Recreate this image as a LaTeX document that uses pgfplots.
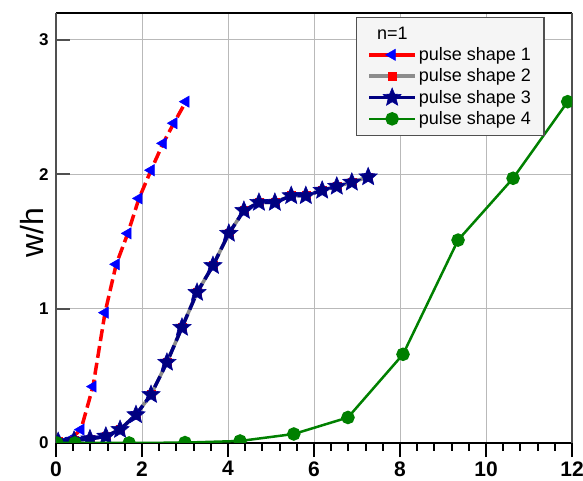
\documentclass[border=0pt]{standalone}
\usepackage{pgfplots}
\pgfplotsset{compat=1.18}
\usepackage{fontspec}
\setmainfont{Liberation Sans}

\definecolor{shapered}{RGB}{255,0,0}
\definecolor{shapeblue}{RGB}{0,0,255}
\definecolor{shapegray}{RGB}{140,140,140}
\definecolor{shapenavy}{RGB}{0,0,128}
\definecolor{shapegreen}{RGB}{0,128,0}
\definecolor{spinegray}{RGB}{80,80,80}

% filled five-pointed star
\pgfdeclareplotmark{fstar}{%
  \pgfpathmoveto{\pgfpointpolar{90}{\pgfplotmarksize}}%
  \pgfpathlineto{\pgfpointpolar{126}{0.45*\pgfplotmarksize}}%
  \pgfpathlineto{\pgfpointpolar{162}{\pgfplotmarksize}}%
  \pgfpathlineto{\pgfpointpolar{198}{0.45*\pgfplotmarksize}}%
  \pgfpathlineto{\pgfpointpolar{234}{\pgfplotmarksize}}%
  \pgfpathlineto{\pgfpointpolar{270}{0.45*\pgfplotmarksize}}%
  \pgfpathlineto{\pgfpointpolar{306}{\pgfplotmarksize}}%
  \pgfpathlineto{\pgfpointpolar{342}{0.45*\pgfplotmarksize}}%
  \pgfpathlineto{\pgfpointpolar{18}{\pgfplotmarksize}}%
  \pgfpathlineto{\pgfpointpolar{54}{0.45*\pgfplotmarksize}}%
  \pgfpathclose
  \pgfusepathqfillstroke
}

\begin{document}
\begin{tikzpicture}
\begin{axis}[
  name=ax,
  scale only axis,
  width=516pt, height=430pt,
  xmin=0, xmax=12, ymin=0, ymax=3.2,
  xtick={0,2,4,6,8,10,12},
  ytick={0,1,2,3},
  minor x tick num=4,
  xtick pos=bottom, ytick pos=left,
  xtick align=outside, ytick align=inside,
  major tick length=14pt, minor tick length=8pt,
  every x tick/.style={black, line width=2pt},
  every y tick/.style={spinegray, line width=2pt},
  grid=major,
  major grid style={gray!55, line width=0.8pt},
  separate axis lines,
  x axis line style={black, line width=2.6pt},
  y axis line style={spinegray, line width=2.6pt},
  clip mode=individual,
  clip marker paths=true,
  /pgf/number format/assume math mode=true,
  x tick label style={font=\fontsize{21}{24}\selectfont\bfseries, yshift=-1pt},
  y tick label style={font=\fontsize{17}{20}\selectfont\bfseries, xshift=-4pt},
  ylabel={w/h},
  ylabel style={font=\fontsize{32}{36}\selectfont, at={(axis description cs:-0.023,0.49)}, anchor=south, rotate=0, inner sep=0pt},
  legend image code/.code={\draw[mark repeat=2,mark phase=2,#1] plot coordinates {(0pt,0pt) (23pt,0pt) (46pt,0pt)};},
  legend image post style={solid},
  legend cell align=left,
  legend style={at={(axis description cs:0.581,0.991)}, anchor=north west,
    fill=gray!8, draw=spinegray, line width=1.2pt,
    font=\fontsize{18}{20}\selectfont, row sep=0pt,
    nodes={inner ysep=3.4pt},
    inner xsep=11pt, inner ysep=6pt},
]
\addlegendimage{empty legend}
\addlegendentry{\hspace{-50pt}n=1}

\addplot[shapered, line width=3.5pt, dash pattern=on 12pt off 5pt,
  mark=triangle*, mark size=6.5pt, mark options={solid, rotate=90, fill=shapeblue, draw=shapeblue, line width=0.5pt}]
  coordinates {(0.02,0.01) (0.30,0.02) (0.58,0.10) (0.86,0.42) (1.14,0.97) (1.40,1.33) (1.67,1.56) (1.93,1.82) (2.21,2.03) (2.49,2.23) (2.74,2.38) (3.02,2.54)};
\addlegendentry{pulse shape 1}

\addplot[shapegray, line width=3.5pt,
  mark=square*, mark size=4pt, mark options={solid, fill=shapered, draw=shapered, line width=0.5pt}]
  coordinates {(0.05,0.01) (0.42,0.02) (0.79,0.03) (1.16,0.05) (1.49,0.10) (1.86,0.21) (2.21,0.36) (2.58,0.60) (2.93,0.86) (3.28,1.12) (3.65,1.32) (4.02,1.56) (4.37,1.73) (4.72,1.79) (5.09,1.79) (5.47,1.84) (5.81,1.84) (6.19,1.88) (6.53,1.91) (6.88,1.94) (7.26,1.98)};
\addlegendentry{pulse shape 2}

\addplot[shapenavy, line width=3.5pt, dash pattern=on 12pt off 5pt,
  mark=fstar, mark size=9.5pt, mark options={solid, fill=shapenavy, draw=shapenavy!80!blue, line width=0.6pt}]
  coordinates {(0.05,0.01) (0.42,0.02) (0.79,0.03) (1.16,0.05) (1.49,0.10) (1.86,0.21) (2.21,0.36) (2.58,0.60) (2.93,0.86) (3.28,1.12) (3.65,1.32) (4.02,1.56) (4.37,1.73) (4.72,1.79) (5.09,1.79) (5.47,1.84) (5.81,1.84) (6.19,1.88) (6.53,1.91) (6.88,1.94) (7.26,1.98)};
\addlegendentry{pulse shape 3}

\addplot[shapegreen, line width=2.5pt,
  mark=*, mark size=5.5pt, mark options={solid, fill=shapegreen, draw=shapegreen}]
  coordinates {(0.02,0) (0.44,0) (1.70,0) (3.00,0.003) (4.28,0.015) (5.53,0.067) (6.79,0.19) (8.07,0.66) (9.35,1.51) (10.63,1.97) (11.90,2.54)};
\addlegendentry{pulse shape 4}
\end{axis}
\pgfresetboundingbox
\path (ax.south west) ++(-56pt,-38pt) coordinate (bbl);
\path (ax.north east) ++(11pt,13pt) coordinate (btr);
\useasboundingbox (bbl) rectangle (btr);
\end{tikzpicture}
\end{document}
